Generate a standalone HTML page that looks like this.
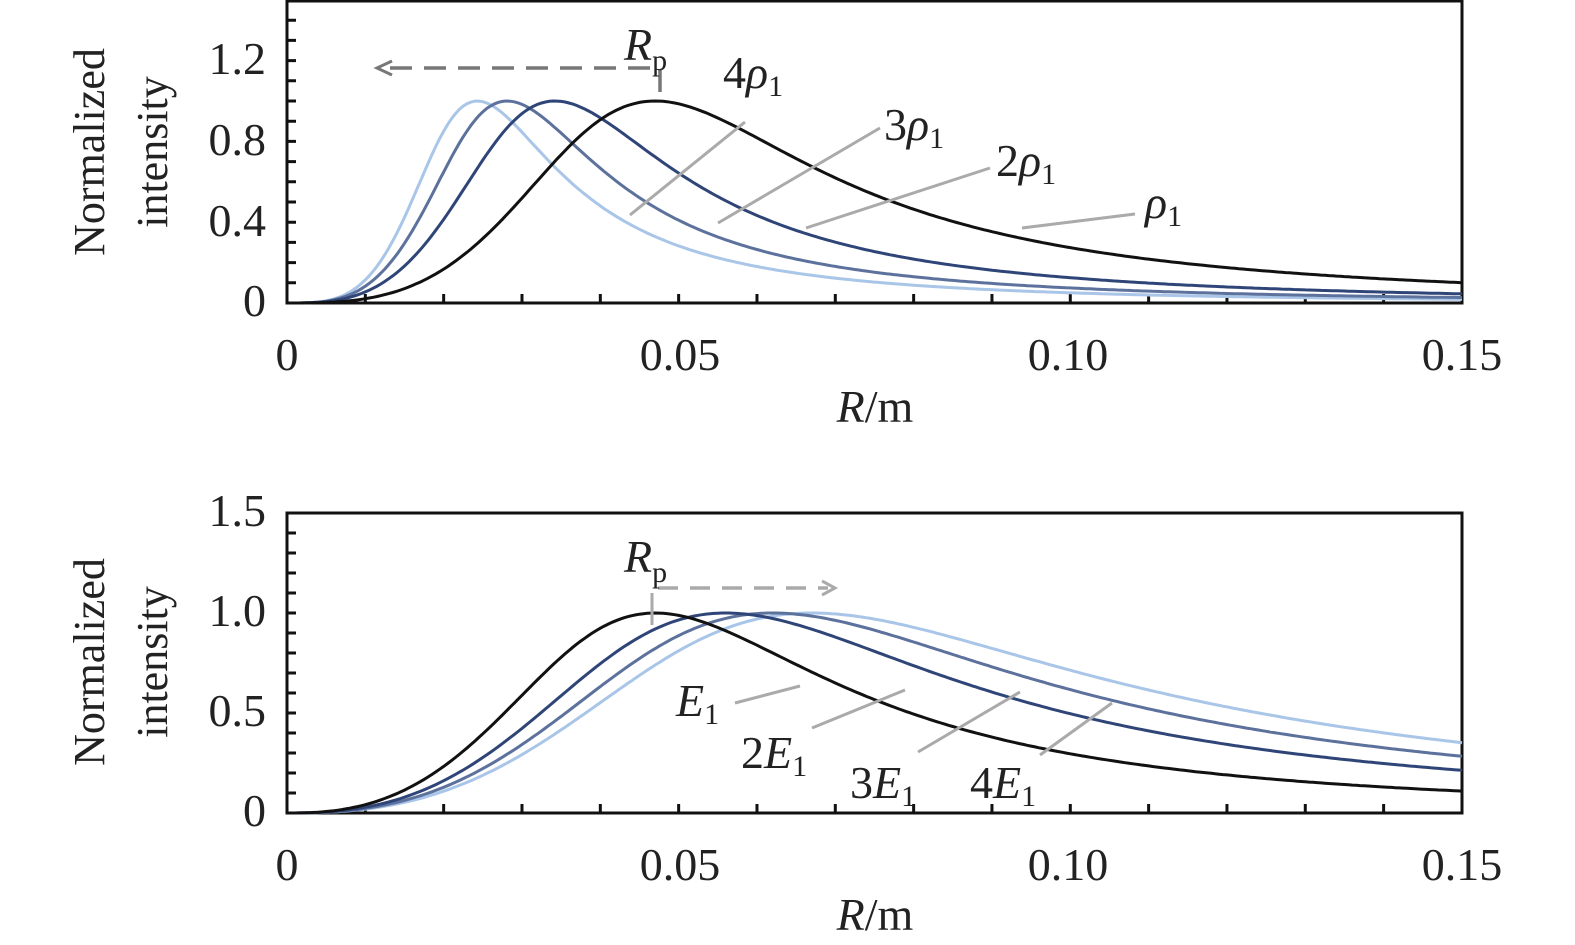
<!DOCTYPE html>
<html><head><meta charset="utf-8"><style>
html,body{margin:0;padding:0;background:#fff;}
svg{display:block;}
text{font-family:"Liberation Serif",serif;fill:#222;}
</style></head><body>
<svg id="s" width="1575" height="945" viewBox="0 0 1575 945" xmlns="http://www.w3.org/2000/svg">
<rect x="287" y="1" width="1175" height="302" fill="none" stroke="#111" stroke-width="3"/>
<g font-size="46" text-anchor="end">
<text x="266" y="316">0</text><text x="266" y="236">0.4</text><text x="266" y="155">0.8</text><text x="266" y="74">1.2</text>
</g>
<g font-size="46" text-anchor="middle">
<text x="287" y="370">0</text><text x="680" y="370">0.05</text><text x="1068" y="370">0.10</text><text x="1462" y="370">0.15</text>
<text x="875" y="422"><tspan font-style="italic">R</tspan>/m</text>
</g>
<g font-size="44" text-anchor="middle">
<text transform="translate(104,152) rotate(-90)">Normalized</text>
<text transform="translate(167,152) rotate(-90)">intensity</text>
</g>
<rect x="287" y="513" width="1175" height="300" fill="none" stroke="#111" stroke-width="3"/>
<g font-size="46" text-anchor="end">
<text x="266" y="826">0</text><text x="266" y="726">0.5</text><text x="266" y="626">1.0</text><text x="266" y="526">1.5</text>
</g>
<g font-size="46" text-anchor="middle">
<text x="287" y="880">0</text><text x="680" y="880">0.05</text><text x="1068" y="880">0.10</text><text x="1462" y="880">0.15</text>
<text x="875" y="930"><tspan font-style="italic">R</tspan>/m</text>
</g>
<g font-size="44" text-anchor="middle">
<text transform="translate(104,662) rotate(-90)">Normalized</text>
<text transform="translate(167,662) rotate(-90)">intensity</text>
</g>
<g id="curves"></g>
<g stroke="#aaa" stroke-width="3">
<line x1="630" y1="215" x2="745" y2="122"/>
<line x1="718" y1="223" x2="880" y2="128"/>
<line x1="806" y1="228" x2="990" y2="168"/>
<line x1="1022" y1="228" x2="1135" y2="214"/>
</g>
<path d="M660 92 V68 H385" fill="none" stroke="#777" stroke-width="3.5" stroke-dasharray="22 12"/>
<path d="M392 61 L377 68 L392 75" fill="none" stroke="#777" stroke-width="3"/>
<g font-size="46">
<text x="624" y="60" font-style="italic">R<tspan font-size="30" font-style="normal" dy="10">p</tspan></text>
<text x="723" y="88">4<tspan font-style="italic">ρ</tspan><tspan font-size="30" dy="8">1</tspan></text>
<text x="884" y="140">3<tspan font-style="italic">ρ</tspan><tspan font-size="30" dy="8">1</tspan></text>
<text x="996" y="176">2<tspan font-style="italic">ρ</tspan><tspan font-size="30" dy="8">1</tspan></text>
<text x="1145" y="218" font-style="italic">ρ<tspan font-size="30" font-style="normal" dy="8">1</tspan></text>
</g>
<g stroke="#aaa" stroke-width="3">
<line x1="735" y1="703" x2="800" y2="686"/>
<line x1="812" y1="728" x2="905" y2="690"/>
<line x1="918" y1="752" x2="1020" y2="692"/>
<line x1="1040" y1="755" x2="1112" y2="703"/>
</g>
<line x1="652" y1="593" x2="652" y2="625" stroke="#aaa" stroke-width="3"/>
<path d="M658 588 H828" fill="none" stroke="#aaa" stroke-width="3.5" stroke-dasharray="20 12"/>
<path d="M822 581 L835 588 L822 595" fill="none" stroke="#aaa" stroke-width="3"/>
<g font-size="46">
<text x="624" y="572" font-style="italic">R<tspan font-size="30" font-style="normal" dy="10">p</tspan></text>
<text x="676" y="716" font-style="italic">E<tspan font-size="30" font-style="normal" dy="8">1</tspan></text>
<text x="741" y="768">2<tspan font-style="italic">E</tspan><tspan font-size="30" dy="8">1</tspan></text>
<text x="850" y="798">3<tspan font-style="italic">E</tspan><tspan font-size="30" dy="8">1</tspan></text>
<text x="970" y="798">4<tspan font-style="italic">E</tspan><tspan font-size="30" dy="8">1</tspan></text>
</g>
</svg>
<script>
(function(){
var NS="http://www.w3.org/2000/svg";
var g=document.getElementById('curves');
function X(r){return 287+7833*r;}
function add(d,c,w){var p=document.createElementNS(NS,'path');p.setAttribute('d',d);p.setAttribute('fill','none');p.setAttribute('stroke',c);p.setAttribute('stroke-width',w||3);g.appendChild(p);}
var t='';
for(var i=1;i<15;i++){var x=X(i*0.01);t+='M'+x+' 303 v-9 M'+x+' 813 v-9 ';}
for(var j=1;j<15;j++){t+='M287 '+(303-20.2*j)+' h9 ';}
for(var k=1;k<15;k++){t+='M287 '+(813-20*k)+' h9 ';}
add(t,'#111',3);
function f(u,a,b){return (a+b)*Math.pow(u,a)/(b+a*Math.pow(u,a+b));}
function curve(rp,a,b,y0,sc,c){var d='';for(var r=0;r<=0.15001;r+=0.0005){var v=f(r/rp,a,b);d+=(d?'L':'M')+X(r).toFixed(1)+' '+(y0-sc*v).toFixed(1);}add(d,c,3);}
var cols=['#a9c5e8','#5d719d','#2f4578','#111'];
curve(0.0243,3.4,2.5,303,202,cols[0]);
curve(0.0281,3.2,2.5,303,202,cols[1]);
curve(0.0342,3,2.5,303,202,cols[2]);
curve(0.047,3,2.5,303,202,cols[3]);
curve(0.067,2.5,2.0,813,200,cols[0]);
curve(0.062,2.5,2.1,813,200,cols[1]);
curve(0.056,2.5,2.2,813,200,cols[2]);
curve(0.047,2.5,2.5,813,200,cols[3]);
})();
</script>
</body></html>
